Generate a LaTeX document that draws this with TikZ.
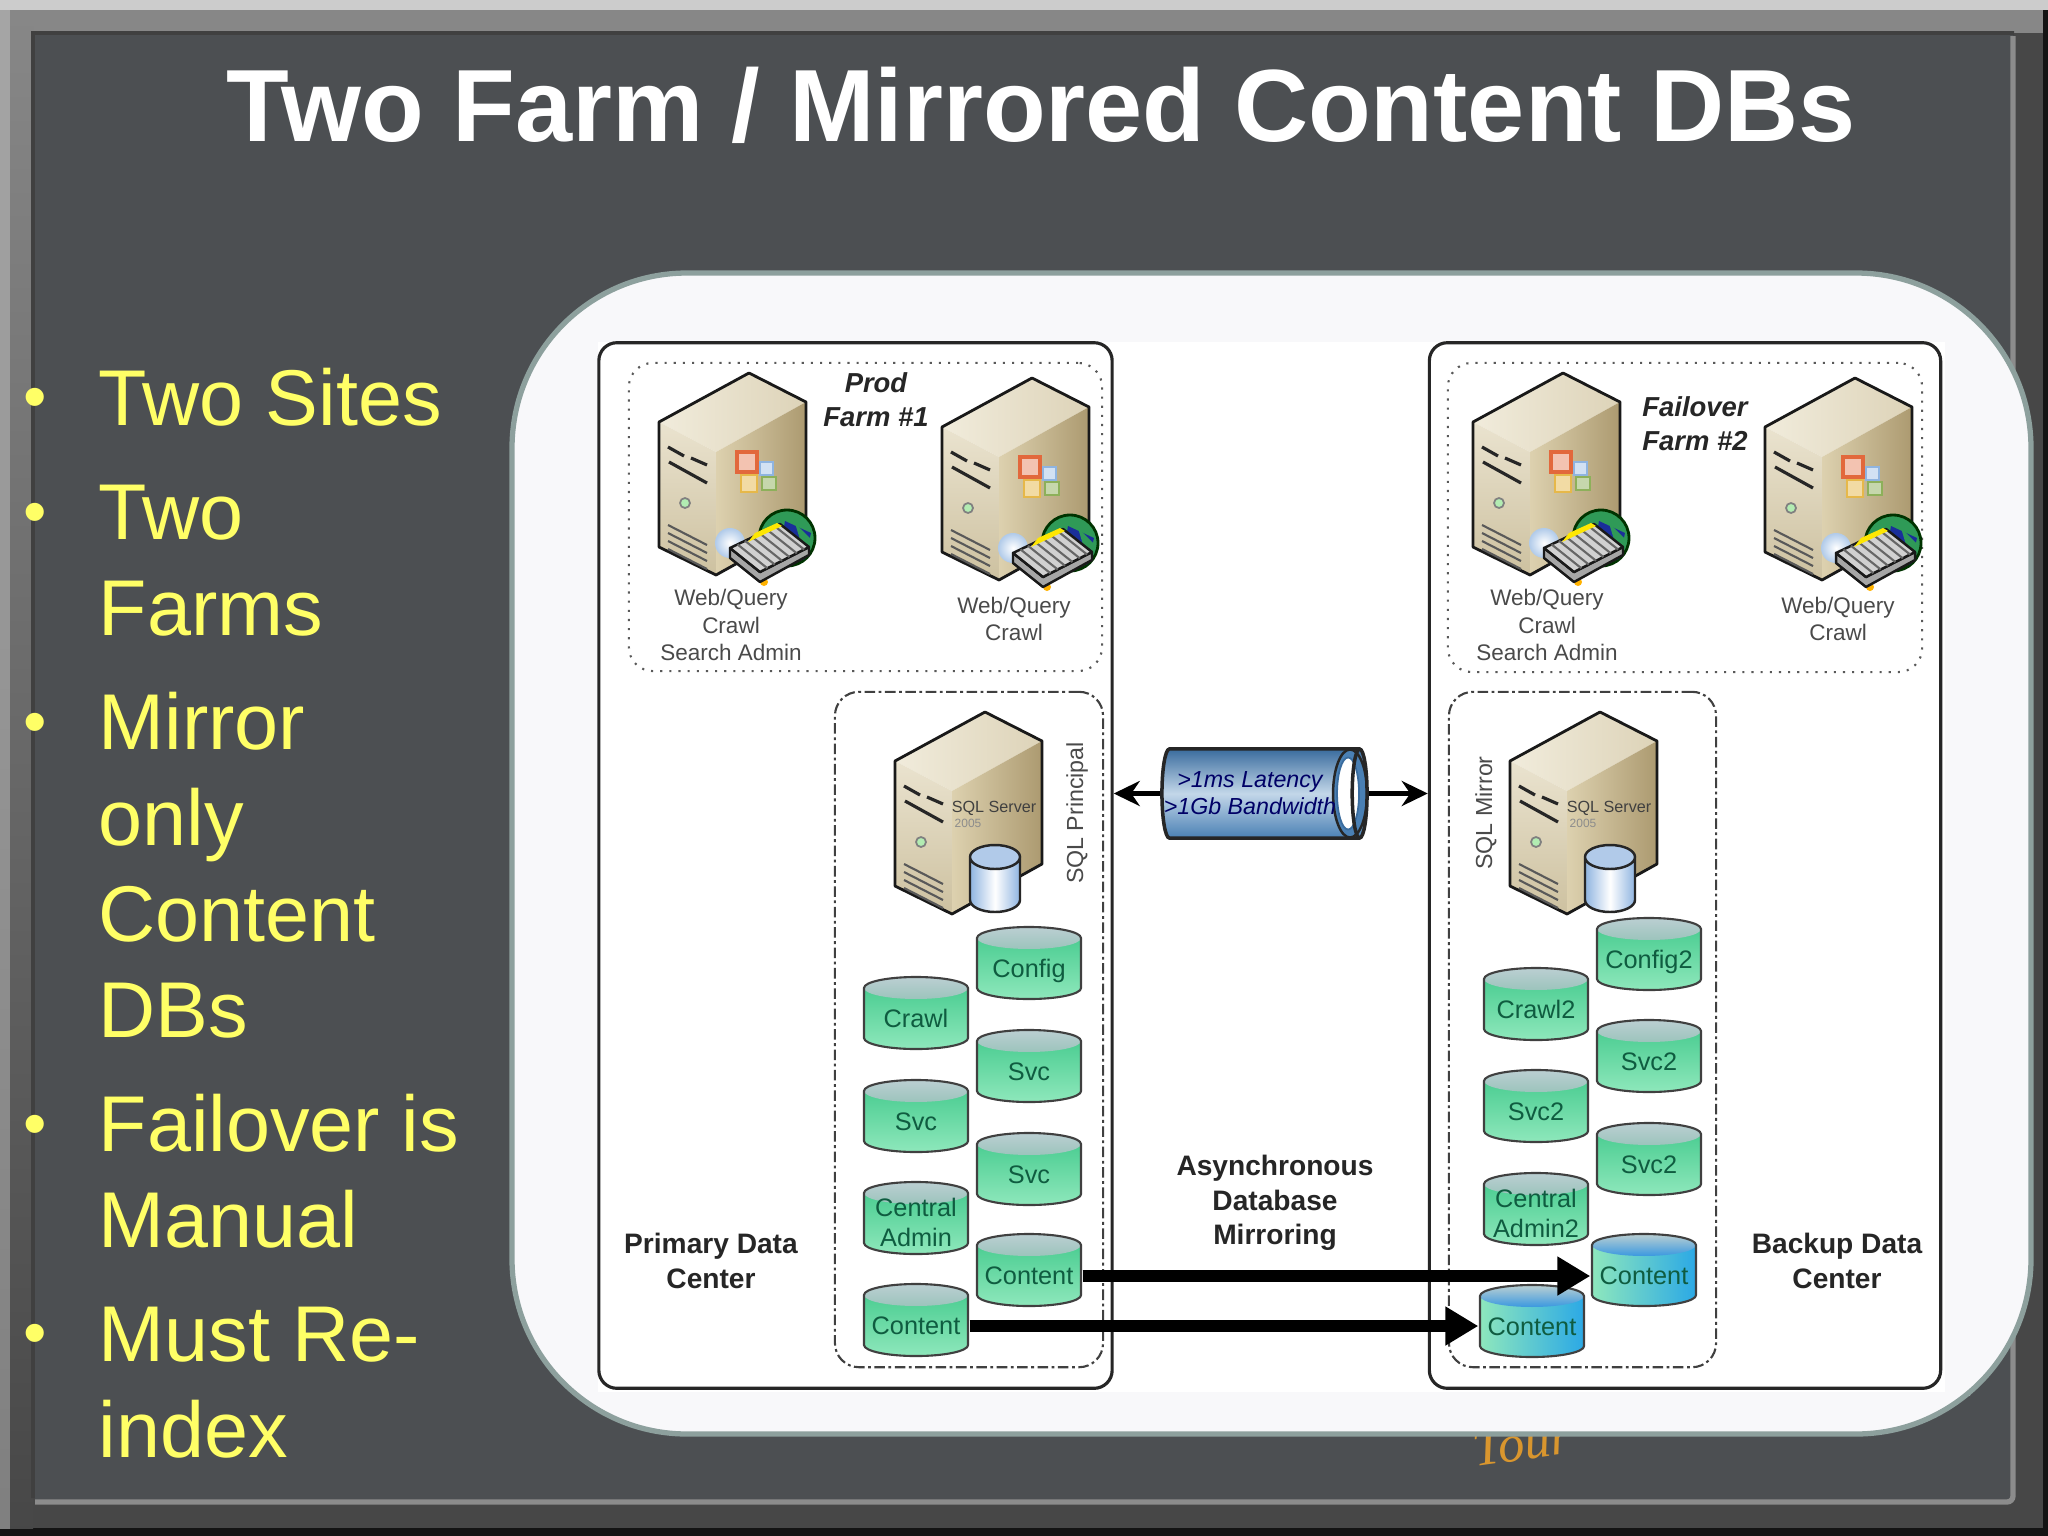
\documentclass[tikz,border=0pt]{standalone}
\usepackage{fontspec}
\setmainfont{Liberation Sans}
\newfontfamily\tourfont{Liberation Serif}
\usetikzlibrary{shapes.geometric,arrows.meta,positioning,calc}

\definecolor{slate}{HTML}{4C4F52}
\definecolor{bullettext}{HTML}{FFFF66}
\definecolor{panelline}{HTML}{8DA09D}
\definecolor{panelfill}{HTML}{F8F8FA}
\definecolor{inklabel}{HTML}{4A4A4A}
\definecolor{dbtext}{HTML}{0F5C40}
\definecolor{srvtopa}{HTML}{F1ECDC}
\definecolor{srvtopb}{HTML}{DDD3B8}
\definecolor{srvfronta}{HTML}{EAE3CF}
\definecolor{srvfrontb}{HTML}{CDC1A0}
\definecolor{srvsidea}{HTML}{DDD1AF}
\definecolor{srvsideb}{HTML}{AC9A70}
\definecolor{dbgreentop}{HTML}{3FC88A}
\definecolor{dbgreenlow}{HTML}{8FE8BC}
\definecolor{dbcap}{HTML}{BBCFD2}
\definecolor{dbcaplow}{HTML}{9CC4BC}
\definecolor{dbbluebody}{HTML}{2AA8E6}
\definecolor{dbbluecap}{HTML}{3A98E0}
\definecolor{logored}{HTML}{E2683C}
\definecolor{logoblue}{HTML}{8FB4E0}
\definecolor{logoyellow}{HTML}{E6B84A}
\definecolor{logogreen}{HTML}{8DB05A}
\definecolor{globegreen}{HTML}{2F9A57}
\definecolor{globenavy}{HTML}{1A2F9A}
\definecolor{tubeedge}{HTML}{3A6C9E}
\definecolor{tubemid}{HTML}{C3D7E9}
\definecolor{tubelow}{HTML}{4A80B4}
\definecolor{tourink}{HTML}{D9962E}

\newcommand{\dbname}[1]{\raisebox{-.14cm}[0pt][0pt]{#1}}
\newcommand{\dbpaint}[2]{%
    \shade[#1] ([xshift=.01cm,yshift=-.12cm]path picture bounding box.north west) arc (180:360:52 and 11)
        -- ([xshift=-.01cm,yshift=.12cm]path picture bounding box.south east) arc (0:180:52 and 11) -- cycle;
    \shade[#2] ([yshift=-.12cm]path picture bounding box.north) ellipse (52 and 11);
    \draw[black!75,line width=.6pt] ([xshift=.01cm,yshift=-.12cm]path picture bounding box.north west) arc (180:360:52 and 11)
        -- ([xshift=-.01cm,yshift=.12cm]path picture bounding box.south east) arc (0:180:52 and 11) -- cycle;
}

\tikzset{
    title/.style={font=\fontsize{29.2}{33}\selectfont\bfseries,text=white,inner sep=0pt},
    item/.style={font=\fontsize{22.5}{27.3}\selectfont,text=bullettext,align=left,anchor=north west,inner sep=0pt},
    dot/.style={font=\fontsize{19}{20}\selectfont,text=bullettext,inner sep=0pt,yshift=-.08cm},
    bigbox/.style={draw=black!85,line width=.9pt,rounded corners=.18cm,inner sep=0pt},
    farmbox/.style={draw=black!65,line width=.6pt,dotted,rounded corners=.24cm,inner sep=0pt},
    sqlbox/.style={draw=black!75,line width=.6pt,dash pattern=on 3pt off 1pt on .8pt off 1pt,rounded corners=.24cm,inner sep=0pt},
    small/.style={font=\fontsize{6.4}{7.7}\selectfont,text=inklabel,align=center,inner sep=0pt},
    farmname/.style={font=\fontsize{7.8}{9.7}\selectfont\bfseries\itshape,text=black!85,align=center,inner sep=0pt},
    sitename/.style={font=\fontsize{8}{9.8}\selectfont\bfseries,text=black!85,align=center,inner sep=0pt},
    sqlname/.style={font=\fontsize{6.6}{8}\selectfont,text=inklabel,rotate=90,inner sep=0pt},
    dbbase/.style={rectangle,minimum width=1.06cm,minimum height=.74cm,inner sep=0pt,
        font=\fontsize{7.2}{8.5}\selectfont,text=dbtext},
    dblabel/.style={font=\fontsize{7.2}{8.5}\selectfont,text=dbtext,align=center,inner sep=0pt},
    dbgreen/.style={dbbase,path picture={\dbpaint{top color=dbgreentop,bottom color=dbgreenlow}{top color=dbcap,bottom color=dbcaplow}}},
    dbblue/.style={dbbase,path picture={\dbpaint{left color=dbgreenlow,right color=dbbluebody}{top color=dbcap,bottom color=dbbluecap}}},
    link/.style={line width=1.4pt,-{Stealth[length=.26cm,width=.25cm]}},
    mirror/.style={line width=3.4pt,-{Triangle[length=.33cm,width=.37cm]}},
    server/.pic={
        \shade[left color=srvtopa,right color=srvtopb] (0,0)--(57,29)--(-33,79)--(-90,49)--cycle;
        \shade[top color=srvfronta,bottom color=srvfrontb] (-90,49)--(-33,79)--(-33,202)--(-90,174)--cycle;
        \shade[left color=srvsidea,right color=srvsideb] (-33,79)--(57,29)--(57,152)--(-33,202)--cycle;
        \draw[black!90,line width=.8pt,line join=round] (0,0)--(57,29)--(57,152)--(-33,202)--(-90,174)--(-90,49)--cycle;
        \draw[black!85,line width=.9pt] (-81,74)--(-65,83) (-58,85)--(-42,92) (-80,89)--(-42,110);
        \draw[black!50,fill=black!25!green!30,line width=.5pt] (-64,130) circle (5);
        \foreach \k in {0,1,2,3} \draw[black!65,line width=.6pt] (-81,{152+8*\k})--(-42,{172+8*\k});
    },
    webcard/.pic={
        \draw[logored,line width=1pt,fill=logored!40!white] (-12,79) rectangle (8,99);
        \draw[logoblue,line width=.8pt,fill=logoblue!40!white] (11,89) rectangle (24,102);
        \draw[logoyellow,line width=.8pt,fill=logoyellow!50!white] (-8,102) rectangle (8,119);
        \draw[logogreen,line width=.8pt,fill=logogreen!50!white] (13,104) rectangle (27,117);
        \draw[green!20!black,fill=globegreen,line width=.8pt] (38,165) circle (28);
        \fill[globenavy] (36,148)--(62,160)--(56,186)--(28,193)--cycle;
        \fill[globegreen] (46,150)--(64,168)--(55,180)--cycle;
        \shade[inner color=white,outer color=logoblue!70!white] (-19,170) circle (15);
        \fill[orange!60!yellow] (15,209) circle (4);
        \draw[black!90,fill=black!35,line width=.7pt,line join=round] (-19,175)--(11,199)--(60,174)--(60,182)--(11,209)--(-19,185)--cycle;
        \draw[black!90,fill=black!18,line width=.7pt,line join=round] (-19,175)--(31,151)--(60,174)--(11,199)--cycle;
        \foreach \t in {.15,.3,.45,.6,.75,.9}
            \draw[black!60,line width=.6pt] ({-19+50*\t},{175-24*\t})--({11+49*\t},{199-25*\t});
        \fill[yellow!90!orange] (-1,169)--(33,153)--(28,150)--(6,160)--cycle;
    },
    sqlmark/.pic={
        \node[font=\fontsize{4.6}{5}\selectfont,text=black!75,inner sep=0pt] (-name) at (9,96) {SQL Server};
        \node[font=\fontsize{3.4}{4}\selectfont,text=black!45,inner sep=0pt] (-year) at (-17,111) {2005};
        \shade[left color=logoblue,right color=logoblue,middle color=white] (-15,145) -- (-15,188) arc (180:0:25 and 12) -- (35,145) -- cycle;
        \fill[logoblue!70!white] (10,145) ellipse (25 and 12);
        \draw[black!85,line width=.7pt] (-15,145) -- (-15,188) arc (180:0:25 and 12) -- (35,145) (10,145) ellipse (25 and 12);
    },
}

\begin{document}
\begin{tikzpicture}[x=.01cm,y=-.01cm,>=latex]
        \useasboundingbox (0,0) rectangle (2048,1536);

        % Draw frame %
        \fill[black!92] (0,0) rectangle (2048,1536);
        \fill[black!72] (0,0) rectangle (2043,1528);
        \shade[top color=black!35,bottom color=black!50] (0,0) rectangle (10,1528);
        \fill[black!47] (10,10) rectangle (2043,33);
        \shade[top color=black!47,bottom color=black!72] (10,10) rectangle (33,1528);
        \fill[black!20] (0,0) rectangle (2048,10);
        \fill[black!75] (31,31) -- (2014,31) -- (2014,35) -- (35,35) -- (35,1498) -- (31,1498) -- cycle;
        \fill[slate] (35,35) rectangle (2013,1502);
        \draw[black!45,line width=1.5pt,rounded corners=.06cm] (2013,36) -- (2013,1502) -- (35,1502);

        % Draw title and bullets %
        \node[title] (heading) at (1041,105) {Two Farm / Mirrored Content DBs};
        \node[item] (sites) at (98,367) {Two Sites};
        \node[item] (farms) at (98,484) {Two\\Farms};
        \node[item] (only) at (98,691) {Mirror\\only\\Content\\DBs};
        \node[item] (manual) at (98,1093) {Failover is\\Manual};
        \node[item] (reindex) at (98,1306) {Must Re-\\index};
        \foreach \name/\ypos in {a/396,b/511,c/721,d/1123,e/1332}
            \node[dot] (dot\name) at (35,\ypos) {•};

        % Draw tour mark %
        \node[font=\fontsize{15}{16}\selectfont\tourfont\itshape,text=tourink,rotate=8,inner sep=0pt] (tour) at (1522,1443) {Tour};
        \fill[panelline!60!white] (1955,1392) -- (1970,1384) -- (1970,1396) -- cycle;

        % Draw panel %
        \draw[panelline,fill=panelfill,line width=1.5pt,rounded corners=1.75cm] (512,273) rectangle (2031,1434);
        \fill[white] (598,342) rectangle (1945,1392);

        % Draw site boxes %
        \node[bigbox,minimum width=5.13cm,minimum height=10.45cm] (primary) at (855.5,865.5) {};
        \node[bigbox,minimum width=5.11cm,minimum height=10.45cm] (backup) at (1685,865.5) {};
        \node[farmbox,minimum width=4.73cm,minimum height=3.08cm] (farma) at (865.5,517) {};
        \node[farmbox,minimum width=4.74cm,minimum height=3.09cm] (farmb) at (1685,517.5) {};
        \node[sqlbox,minimum width=2.68cm,minimum height=6.75cm] (sqla) at (969,1029.5) {};
        \node[sqlbox,minimum width=2.67cm,minimum height=6.75cm] (sqlb) at (1582.5,1029.5) {};

        % Draw servers %
        \pic (weba) at (749,373) {server};
        \pic (webamark) at (749,373) {webcard};
        \pic (webb) at (1032,378) {server};
        \pic (webbmark) at (1032,378) {webcard};
        \pic (webc) at (1563,373) {server};
        \pic (webcmark) at (1563,373) {webcard};
        \pic (webd) at (1855,378) {server};
        \pic (webdmark) at (1855,378) {webcard};
        \pic (sqlp) at (985,712) {server};
        \pic (sqlpmark) at (985,712) {sqlmark};
        \pic (sqlm) at (1600,712) {server};
        \pic (sqlmmark) at (1600,712) {sqlmark};

        % Draw labels %
        \node[small] (rolea) at (731,625) {Web/Query\\Crawl\\Search Admin};
        \node[small] (roleb) at (1014,618.5) {Web/Query\\Crawl};
        \node[small] (rolec) at (1547,625) {Web/Query\\Crawl\\Search Admin};
        \node[small] (roled) at (1838,618.5) {Web/Query\\Crawl};
        \node[farmname] (proda) at (876,400) {Prod\\Farm \#1};
        \node[farmname] (failb) at (1695,424) {Failover\\Farm \#2};
        \node[sqlname] (princ) at (1077,813) {SQL Principal};
        \node[sqlname] (mirr) at (1486,813) {SQL Mirror};
        \node[sitename] (sitea) at (711,1261) {Primary Data\\Center};
        \node[sitename] (siteb) at (1837,1261) {Backup Data\\Center};
        \node[sitename] (async) at (1275,1203) {Asynchronous\\Database\\Mirroring};

        % Draw primary databases %
        \node[dbgreen] (config) at (1029,963) {\dbname{Config}};
        \node[dbgreen] (crawl) at (916,1013) {\dbname{Crawl}};
        \node[dbgreen] (svca) at (1029,1066) {\dbname{Svc}};
        \node[dbgreen] (svcb) at (916,1116) {\dbname{Svc}};
        \node[dbgreen] (svcc) at (1029,1169) {\dbname{Svc}};
        \node[dbgreen] (central) at (916,1218) {};
        \node[dblabel] (centraltext) at (916,1222) {Central\\Admin};
        \node[dbgreen] (contenta) at (1029,1270) {\dbname{Content}};
        \node[dbgreen] (contentb) at (916,1320) {\dbname{Content}};

        % Draw mirror databases %
        \node[dbgreen] (configm) at (1649,954) {\dbname{Config2}};
        \node[dbgreen] (crawlm) at (1536,1004) {\dbname{Crawl2}};
        \node[dbgreen] (svcam) at (1649,1056) {\dbname{Svc2}};
        \node[dbgreen] (svcbm) at (1536,1106) {\dbname{Svc2}};
        \node[dbgreen] (svccm) at (1649,1159) {\dbname{Svc2}};
        \node[dbgreen] (centralm) at (1536,1209) {};
        \node[dblabel] (centralmtext) at (1536,1213) {Central\\Admin2};
        \node[dbblue] (contentam) at (1644,1270) {\dbname{Content}};
        \node[dbblue] (contentbm) at (1532,1321) {\dbname{Content}};

        % Draw link %
        \node[cylinder,aspect=.8,anchor=shape center,draw=black!85,line width=1pt,minimum width=.89cm,minimum height=2.05cm,inner sep=0pt,
            path picture={
                \shade[top color=tubeedge,bottom color=tubelow,middle color=tubemid]
                    (path picture bounding box.south west) rectangle (path picture bounding box.north east);
                \draw[black!85,line width=.7pt,fill=tubelow] ([xshift=-.17cm]path picture bounding box.east) ellipse (17 and 44);
                \draw[tubeedge,line width=.5pt,fill=white] ([xshift=-.19cm]path picture bounding box.east) ellipse (11 and 36);
            }] (tube) at (1264.5,793.5) {\phantom{x}};
        \node[font=\fontsize{6.6}{7.7}\selectfont\itshape,text=blue!40!black,align=center,inner sep=0pt] (tubetext) at (1250,793.5) {\textgreater1ms Latency\\\textgreater1Gb Bandwidth};
        \draw[link] (tube.west) -- (primary.east |- tube.center);
        \draw[link] (tube.east) -- (backup.west |- tube.center);

        % Draw arrows %
        \draw[mirror] ([yshift=-.06cm]contenta.east) -- ([yshift=-.06cm]contenta.east -| contentam.west);
        \draw[mirror] ([yshift=-.06cm]contentb.east) -- ([yshift=-.06cm]contentb.east -| contentbm.west);
\end{tikzpicture}
\end{document}
